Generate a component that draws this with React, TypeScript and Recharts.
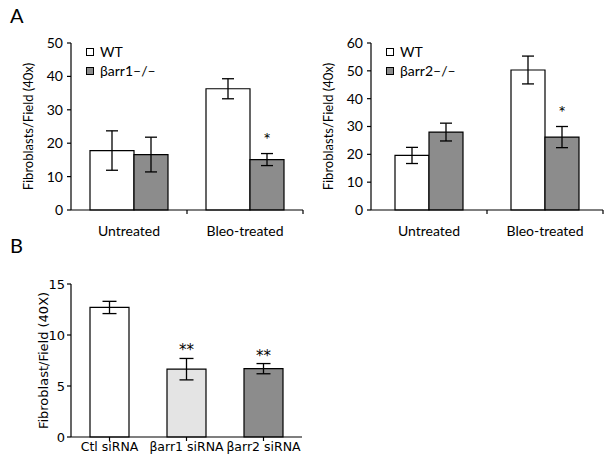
import { BarChart, Bar, XAxis, YAxis, ErrorBar, Legend, LabelList, Cell } from 'recharts';

// panel A
const treatments = ['Untreated', 'Bleo-treated'];
const wt1 = [17.8, 36.3];
const wt1Err = [5.9, 3.0];
const arr1 = [16.6, 15.1];
const arr1Err = [5.2, 1.8];
const wt2 = [19.6, 50.3];
const wt2Err = [2.9, 5.0];
const arr2 = [28.0, 26.2];
const arr2Err = [3.2, 3.8];
const koSig = ['', '*'];
const ticks1 = [0, 10, 20, 30, 40, 50];
const ticks2 = [0, 10, 20, 30, 40, 50, 60];

// panel B
const sirnas = ['Ctl siRNA', 'βarr1 siRNA', 'βarr2 siRNA'];
const sirnaMean = [12.7, 6.65, 6.7];
const sirnaErr = [0.6, 1.05, 0.5];
const sirnaSig = ['', '**', '**'];
const sirnaFill = ['#ffffff', '#e4e4e4', '#8c8c8c'];
const ticks3 = [0, 5, 10, 15];

const GRAY = '#8c8c8c';
const TOP_FONT = 'Lato, "Open Sans", sans-serif';
const B_FONT = '"DejaVu Sans", sans-serif';

function SquareLegend({ payload }: any) {
  return (
    <div style={{ fontFamily: TOP_FONT, fontSize: 14, color: '#000' }}>
      {(payload || []).map((e: any) => (
        <div key={e.value} style={{ display: 'flex', alignItems: 'center', height: 19 }}>
          <span
            style={{
              display: 'inline-block',
              boxSizing: 'border-box',
              width: 8,
              height: 8,
              border: '1.2px solid #000',
              background: e.color,
              marginRight: 6,
            }}
          />
          {e.value}
        </div>
      ))}
    </div>
  );
}

function TopPanel({
  left, width, koName, wt, wtErr, ko, koErr, ticks, yMax, wtBarSize,
}: {
  left: number; width: number; koName: string; wt: number[]; wtErr: number[];
  ko: number[]; koErr: number[]; ticks: number[]; yMax: number; wtBarSize: number;
}) {
  const height = 240;
  const margin = { top: 43, right: width - 303, bottom: 0, left: 15 };
  const plotW = width - margin.left - 56 - margin.right;
  const plotH = height - margin.top - 30;
  const pxPerUnit = plotH / yMax;
  const half = plotW / 4;
  const data = treatments.map((t, i) => ({
    name: t, wt: wt[i], wtErr: wtErr[i], ko: ko[i], koErr: koErr[i], sig: koSig[i],
  }));

  const tick = ({ x, y, payload }: any) => (
    <g>
      <line x1={x + half} x2={x + half} y1={y} y2={y + 4} stroke="#000" strokeWidth={1.2} />
      <text x={x} y={y + 26} textAnchor="middle" fontSize={14} fontFamily={TOP_FONT} fill="#000">
        {payload.value}
      </text>
    </g>
  );

  const star = ({ x, y, width: w, value, index }: any) =>
    value ? (
      <text x={x + w / 2} y={y - koErr[index] * pxPerUnit - 8} textAnchor="middle" fontSize={18} fontFamily={TOP_FONT} fill="#000">
        {value}
      </text>
    ) : null;

  return (
    <div style={{ position: 'absolute', left, top: 0 }}>
      <BarChart width={width} height={height} data={data} margin={margin} barGap={0}>
        <XAxis
          dataKey="name"
          height={30}
          tickSize={0}
          tickMargin={0}
          tickLine={false}
          tick={tick}
          axisLine={{ stroke: '#000', strokeWidth: 1.2 }}
          interval={0}
        />
        <YAxis
          width={56}
          domain={[0, yMax]}
          ticks={ticks}
          tickSize={4}
          tickMargin={4}
          axisLine={{ stroke: '#000', strokeWidth: 1.2 }}
          tickLine={{ stroke: '#000', strokeWidth: 1.2 }}
          tick={{ fill: '#000', fontSize: 14, fontFamily: TOP_FONT }}
          label={{
            value: 'Fibroblasts/Field (40x)',
            angle: -90,
            position: 'insideLeft',
            offset: 13,
            style: { textAnchor: 'middle', fontSize: 13, fontFamily: TOP_FONT, fill: '#000' },
          }}
        />
        <Legend
          layout="vertical"
          align="center"
          verticalAlign="middle"
          content={SquareLegend}
          wrapperStyle={{ left: 86, top: 42, width: 'auto', height: 'auto' }}
        />
        <Bar dataKey="wt" name="WT" fill="#ffffff" stroke="#000" strokeWidth={1.2} barSize={wtBarSize} isAnimationActive={false}>
          <ErrorBar dataKey="wtErr" width={6} stroke="#000" strokeWidth={1.3} direction="y" isAnimationActive={false} />
        </Bar>
        <Bar dataKey="ko" name={koName} fill={GRAY} stroke="#000" strokeWidth={1.2} barSize={34} isAnimationActive={false}>
          <ErrorBar dataKey="koErr" width={6} stroke="#000" strokeWidth={1.3} direction="y" isAnimationActive={false} />
          <LabelList dataKey="sig" content={star} />
        </Bar>
      </BarChart>
    </div>
  );
}

function SirnaPanel() {
  const width = 310;
  const height = 210;
  const margin = { top: 34, right: 8, bottom: 0, left: 15 };
  const plotH = height - margin.top - 23;
  const pxPerUnit = plotH / 15;
  const data = sirnas.map((s, i) => ({ name: s, mean: sirnaMean[i], err: sirnaErr[i], sig: sirnaSig[i] }));

  const star = ({ x, y, width: w, value, index }: any) =>
    value ? (
      <text x={x + w / 2} y={y - sirnaErr[index] * pxPerUnit - 3} textAnchor="middle" fontSize={15} fontFamily={B_FONT} fill="#000">
        {value}
      </text>
    ) : null;

  return (
    <div style={{ position: 'absolute', left: 0, top: 250 }}>
      <BarChart width={width} height={height} data={data} margin={margin}>
        <XAxis
          dataKey="name"
          height={23}
          interval={0}
          tickSize={4}
          tickMargin={1}
          axisLine={{ stroke: '#000', strokeWidth: 1.2 }}
          tickLine={{ stroke: '#000', strokeWidth: 1.2 }}
          tick={{ fill: '#000', fontSize: 12.5, fontFamily: B_FONT }}
        />
        <YAxis
          width={56}
          domain={[0, 15]}
          ticks={ticks3}
          tickSize={4}
          tickMargin={2}
          axisLine={{ stroke: '#000', strokeWidth: 1.2 }}
          tickLine={{ stroke: '#000', strokeWidth: 1.2 }}
          tick={{ fill: '#000', fontSize: 13, fontFamily: B_FONT }}
          label={{
            value: 'Fibroblast/Field (40X)',
            angle: -90,
            position: 'insideLeft',
            offset: 28,
            style: { textAnchor: 'middle', fontSize: 13, fontFamily: B_FONT, fill: '#000' },
          }}
        />
        <Bar dataKey="mean" stroke="#000" strokeWidth={1.2} barSize={39} isAnimationActive={false}>
          {data.map((d, i) => (
            <Cell key={d.name} fill={sirnaFill[i]} />
          ))}
          <ErrorBar dataKey="err" width={7} stroke="#000" strokeWidth={1.3} direction="y" isAnimationActive={false} />
          <LabelList dataKey="sig" content={star} />
        </Bar>
      </BarChart>
    </div>
  );
}

export default function App() {
  return (
    <div style={{ position: 'absolute', left: 0, top: 0, width: 614, height: 460, background: '#fff' }}>
      <div style={{ position: 'absolute', left: 10, top: 3, fontFamily: TOP_FONT, fontSize: 20 }}>A</div>
      <div style={{ position: 'absolute', left: 10, top: 233, fontFamily: TOP_FONT, fontSize: 20 }}>B</div>
      <TopPanel left={0} width={310} koName="βarr1–/–" wt={wt1} wtErr={wt1Err} ko={arr1} koErr={arr1Err} ticks={ticks1} yMax={50} wtBarSize={44} />
      <TopPanel left={300} width={314} koName="βarr2–/–" wt={wt2} wtErr={wt2Err} ko={arr2} koErr={arr2Err} ticks={ticks2} yMax={60} wtBarSize={34} />
      <SirnaPanel />
    </div>
  );
}
